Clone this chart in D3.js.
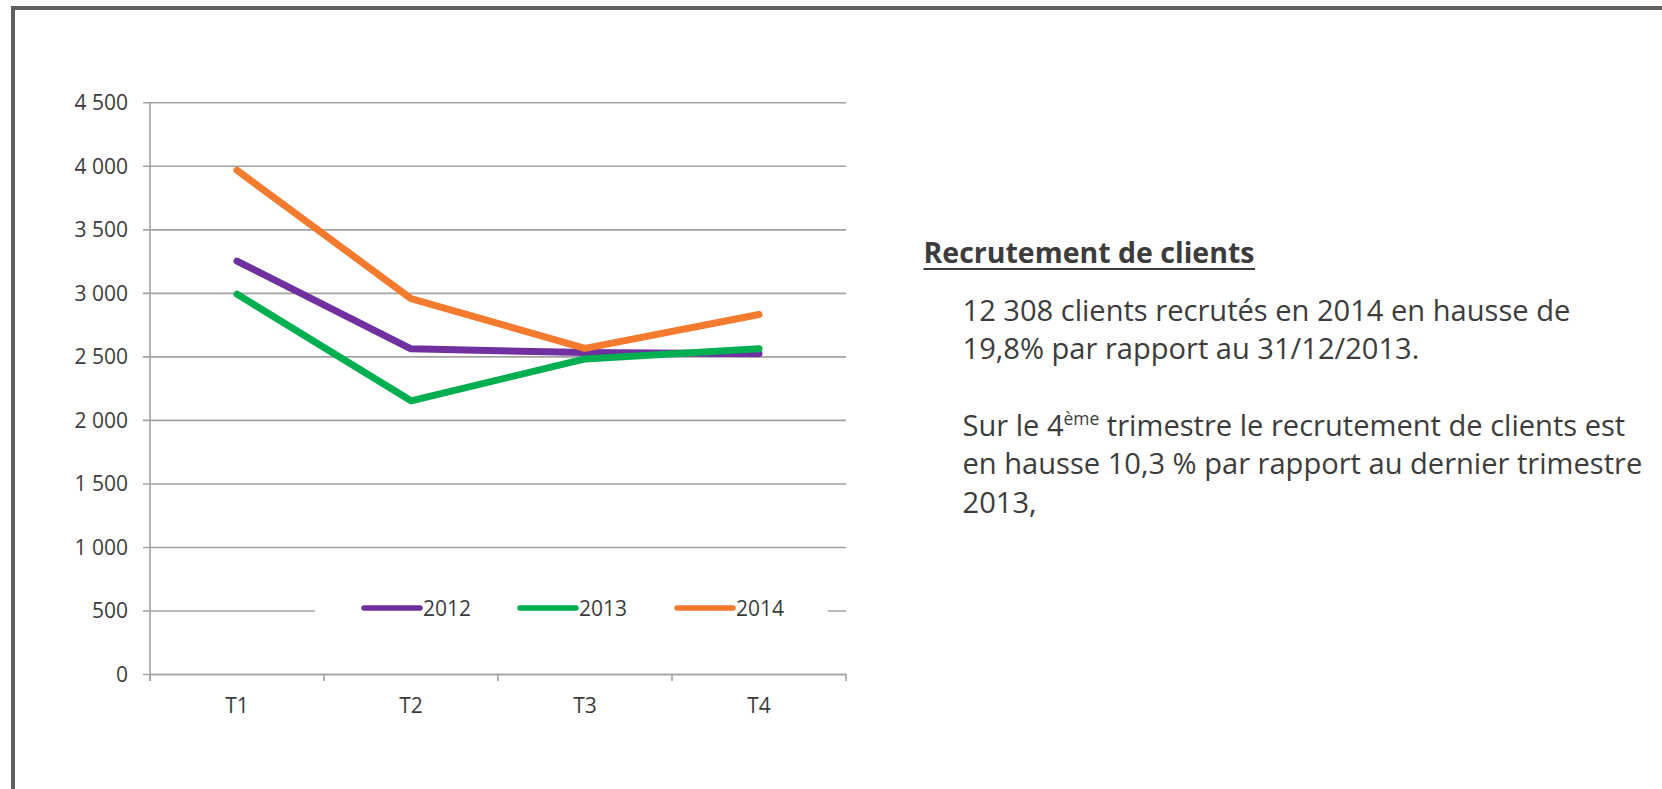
<!DOCTYPE html>
<html>
<head>
<meta charset="utf-8">
<script src="https://cdn.jsdelivr.net/npm/d3@7"></script>
<style>
  html, body { margin: 0; padding: 0; background: #fff; }
  svg { display: block; }
  text { font-family: "Open Sans", "Noto Sans", sans-serif; }
</style>
</head>
<body>
<svg id="chart" width="1662" height="789"></svg>
<script>
// ---- data ----
const categories = ["T1", "T2", "T3", "T4"];
const seriesNames = ["2012", "2013", "2014"];
const values2012 = [3250, 2560, 2530, 2520];
const values2013 = [2990, 2150, 2480, 2560];
const values2014 = [3965, 2955, 2563, 2830];
const seriesColors = ["#7030a0", "#00b050", "#f47a2d"];
const yTicks = [0, 500, 1000, 1500, 2000, 2500, 3000, 3500, 4000, 4500];
const headingText = "Recrutement de clients";
const para1 = ["12 308 clients recrutés en 2014 en hausse de", "19,8% par rapport au 31/12/2013."];
const para2Line1 = ["Sur le 4", "ème", " trimestre le recrutement de clients est"];
const para2Rest = ["en hausse 10,3 % par rapport au dernier trimestre", "2013,"];

const seriesValues = [values2012, values2013, values2014];

const svg = d3.select("#chart");
const textColor = "#3c3c3c";
const gridColor = "#a3a3a3";

// ---- frame ----
svg.append("line").attr("x1", 11).attr("x2", 1662).attr("y1", 8).attr("y2", 8)
  .attr("stroke", "#5f5f5f").attr("stroke-width", 4);
svg.append("line").attr("x1", 13).attr("x2", 13).attr("y1", 6).attr("y2", 789)
  .attr("stroke", "#5f5f5f").attr("stroke-width", 4);

// ---- scales ----
const plotL = 150, plotR = 846, plotT = 102.3, plotB = 674;
const x = d3.scaleBand().domain(categories).range([plotL, plotR]).padding(0);
const y = d3.scaleLinear().domain([0, 4500]).range([plotB, plotT]);
const locale = d3.formatLocale({decimal: ",", thousands: "\u00a0", grouping: [3], currency: ["", ""]});
const fmt = locale.format(",");
const cx = c => x(c) + x.bandwidth() / 2;

// ---- y gridlines + axis ----
const yAxis = d3.axisLeft(y).tickValues(yTicks).tickFormat(fmt)
  .tickSize(-(plotR - plotL)).tickPadding(0);
const gy = svg.append("g").attr("transform", `translate(${plotL},0)`).call(yAxis);
gy.select(".domain").remove();
gy.selectAll(".tick line").attr("stroke", gridColor).attr("stroke-width", 1.6)
  .attr("x1", -7);
gy.selectAll(".tick text").attr("x", -22).attr("fill", textColor)
  .attr("font-size", 21).attr("dy", "0.35em");

// vertical axis line
svg.append("line").attr("x1", plotL).attr("x2", plotL).attr("y1", y(4500)).attr("y2", plotB + 7)
  .attr("stroke", gridColor).attr("stroke-width", 1.6);

// ---- x axis ----
const xAxis = d3.axisBottom(x).tickSize(0).tickPadding(24);
const gx = svg.append("g").attr("transform", `translate(0,${plotB})`).call(xAxis);
gx.select(".domain").attr("stroke", gridColor).attr("stroke-width", 1.6);
gx.selectAll(".tick text").attr("fill", textColor).attr("font-size", 21);
const boundaries = categories.map(c => x(c)).concat([x.range()[1]]);
gx.selectAll(".btick").data(boundaries).enter().append("line")
  .attr("class", "btick")
  .attr("x1", d => d).attr("x2", d => d).attr("y1", 0).attr("y2", 7)
  .attr("stroke", gridColor).attr("stroke-width", 1.6);

// ---- legend background (gap in gridline) ----
const legendY = y(500) - 2.5;
svg.append("rect").attr("x", 315).attr("y", legendY - 14).attr("width", 828 - 315).attr("height", 28)
  .attr("fill", "#fff");

// ---- lines ----
const line = d3.line().x((d, i) => cx(categories[i])).y(d => y(d));
svg.selectAll(".series").data(seriesValues).enter().append("path")
  .attr("class", "series")
  .attr("d", d => line(d))
  .attr("fill", "none")
  .attr("stroke", (d, i) => seriesColors[i])
  .attr("stroke-width", 7)
  .attr("stroke-linejoin", "round")
  .attr("stroke-linecap", "round");

// ---- legend ----
const legendX = [364, 520, 677];
const leg = svg.selectAll(".leg").data(seriesNames).enter().append("g")
  .attr("class", "leg")
  .attr("transform", (d, i) => `translate(${legendX[i]},${legendY})`);
leg.append("line").attr("x1", 0).attr("x2", 56).attr("y1", 0).attr("y2", 0)
  .attr("stroke", (d, i) => seriesColors[i]).attr("stroke-width", 5.5)
  .attr("stroke-linecap", "round");
leg.append("text").attr("x", 59).attr("y", 0).attr("dy", "0.36em")
  .attr("font-size", 21).attr("fill", textColor).text(d => d);

// ---- right text ----
function fitSize(sel, target, base) {
  const w = sel.node().getComputedTextLength();
  return base * target / w;
}
const heading = svg.append("text").attr("x", 923.5).attr("y", 262.5)
  .attr("font-weight", "bold").attr("font-size", 27).attr("fill", textColor).text(headingText);
const hs = fitSize(heading, 331, 27);
heading.attr("font-size", hs);
svg.append("line").attr("x1", 923.5).attr("x2", 1255).attr("y1", 269).attr("y2", 269)
  .attr("stroke", textColor).attr("stroke-width", 2.2);

const bodyX = 962.5;
const l1 = svg.append("text").attr("x", bodyX).attr("y", 321).attr("font-size", 24)
  .attr("fill", textColor).text(para1[0]);
const bs = fitSize(l1, 608, 24);
l1.attr("font-size", bs);
svg.append("text").attr("x", bodyX).attr("y", 358.5).attr("font-size", bs)
  .attr("fill", textColor).text(para1[1]);

const p2 = svg.append("text").attr("x", bodyX).attr("y", 436).attr("font-size", bs).attr("fill", textColor);
p2.append("tspan").text(para2Line1[0]);
p2.append("tspan").attr("font-size", bs * 0.6).attr("dy", -bs * 0.38).text(para2Line1[1]);
p2.append("tspan").attr("dy", bs * 0.38).text(para2Line1[2]);
para2Rest.forEach((t, i) => {
  svg.append("text").attr("x", bodyX).attr("y", 474 + i * 38.5).attr("font-size", bs)
    .attr("fill", textColor).text(t);
});
</script>
</body>
</html>
